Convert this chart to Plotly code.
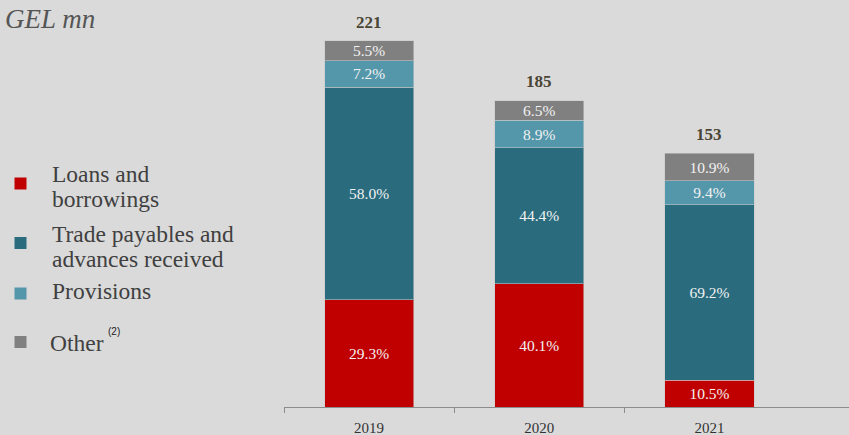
import plotly.graph_objects as go

years = ["2019", "2020", "2021"]
totals = [221, 185, 153]
loans_pct = [29.3, 40.1, 10.5]
trade_pct = [58.0, 44.4, 69.2]
prov_pct = [7.2, 8.9, 9.4]
other_pct = [5.5, 6.5, 10.9]

series = [
    ("Loans and borrowings", loans_pct, "#C00000"),
    ("Trade payables and advances received", trade_pct, "#2A6C7E"),
    ("Provisions", prov_pct, "#5497AB"),
    ("Other", other_pct, "#808080"),
]

SERIF = "Liberation Serif"
L, R, T, B = 284, 849, 9, 407  # plot area in pixels


def px(x):
    return (x - L) / (R - L)


def py(y):
    return (B - y) / (B - T)


fig = go.Figure()
for name, pct, col in series:
    vals = [p * t / 100 for p, t in zip(pct, totals)]
    fig.add_trace(go.Bar(
        x=years, y=vals, name=name,
        marker=dict(color=col, line=dict(color="rgba(200,200,200,0.55)", width=1)),
        text=[f"{p:.1f}%" for p in pct],
        textposition="inside", insidetextanchor="middle", textangle=0,
        constraintext="none",
        textfont=dict(family=SERIF, size=15.5, color="#F2F2F2"),
        hoverinfo="skip", showlegend=False,
    ))

annotations = []
for i, tot in enumerate(totals):
    annotations.append(dict(
        x=i, y=tot, xref="x", yref="y", text=f"<b>{tot}</b>", showarrow=False,
        yanchor="bottom", yshift=7,
        font=dict(family=SERIF, size=17, color="#4A4535"),
    ))

# title fragment
annotations.append(dict(
    x=px(3), y=py(19), xref="paper", yref="paper", text="<i>GEL mn</i>",
    showarrow=False, xanchor="left", yanchor="middle",
    font=dict(family=SERIF, size=27, color="#555555"),
))

# manual legend
legend_lines = [
    ("Loans and", 50, 174), ("borrowings", 50, 199),
    ("Trade payables and", 50, 234), ("advances received", 50, 259),
    ("Provisions", 50, 291),
    ("Other", 48, 343),
]
for txt, x0, yc in legend_lines:
    annotations.append(dict(
        x=px(x0), y=py(yc), xref="paper", yref="paper", text=txt,
        showarrow=False, xanchor="left", yanchor="middle",
        font=dict(family=SERIF, size=23.5, color="#404040"),
    ))
annotations.append(dict(
    x=px(114), y=py(331), xref="paper", yref="paper", text="(2)",
    showarrow=False, xanchor="center", yanchor="middle",
    font=dict(family="Liberation Sans", size=10, color="#222222"),
))

squares = [(183.5, "#C00000"), (243, "#2A6C7E"), (293.5, "#5497AB"), (342, "#808080")]
shapes = []
for yc, col in squares:
    shapes.append(dict(
        type="rect", xref="paper", yref="paper",
        x0=px(14.5), x1=px(26.5), y0=py(yc + 6), y1=py(yc - 6),
        fillcolor=col, line=dict(width=0),
    ))

fig.update_layout(
    barmode="stack",
    bargap=0.476,
    width=849, height=435,
    margin=dict(l=L, r=849 - R, t=T, b=435 - B, pad=0),
    paper_bgcolor="#DADADA", plot_bgcolor="#DADADA",
    annotations=annotations, shapes=shapes,
    showlegend=False,
    xaxis=dict(
        type="category", range=[-0.5, 2.82], showline=True, linecolor="#8C8C8C",
        linewidth=1, ticks="", showgrid=False, zeroline=False,
        tickfont=dict(family=SERIF, size=15, color="#333333"),
        ticklabelstandoff=7,
    ),
    xaxis2=dict(
        overlaying="x", anchor="y", side="bottom", range=[-0.5, 2.82],
        tickvals=[-0.5, 0.5, 1.5], ticks="outside", ticklen=5, tickcolor="#8C8C8C",
        showticklabels=False, showgrid=False, zeroline=False, showline=False,
    ),
    yaxis=dict(range=[0, 240], visible=False, showgrid=False, zeroline=False),
)
# invisible trace to activate xaxis2
fig.add_trace(go.Scatter(x=[0], y=[0], xaxis="x2", mode="markers",
                         marker=dict(opacity=0), hoverinfo="skip", showlegend=False))

fig.write_html("out.html")
